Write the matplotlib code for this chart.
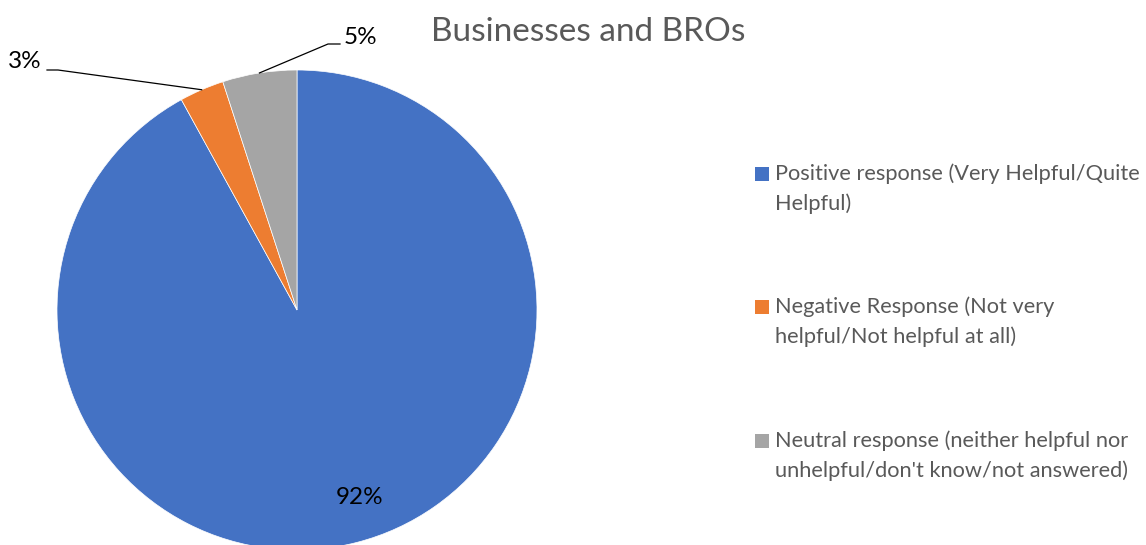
import numpy as np
import matplotlib
matplotlib.use("Agg")
import matplotlib.pyplot as plt
from matplotlib.patches import Rectangle

categories = [
    "Positive response (Very Helpful/Quite\nHelpful)",
    "Negative Response (Not very\nhelpful/Not helpful at all)",
    "Neutral response (neither helpful nor\nunhelpful/don't know/not answered)",
]
values = [92, 3, 5]
colors = ["#4472C4", "#ED7D31", "#A5A5A5"]
title = "Businesses and BROs"

W, H = 1146, 545
fig = plt.figure(figsize=(W / 100, H / 100), dpi=100)
ax = fig.add_axes([0, 0, 1, 1])

FONT = "Lato"
cx, cy, R = 297, H - 310, 240

wedges, _ = ax.pie(values, colors=colors, startangle=90, counterclock=False,
                   center=(cx, cy), radius=R, frame=True,
                   wedgeprops=dict(linewidth=0.5, edgecolor="white"))
ax.set_xlim(0, W)
ax.set_ylim(0, H)
ax.set_aspect("equal")
ax.axis("off")

# data labels: text centre and leader-line elbow (pixel offsets from the pie centre)
label_pos = [(cx + 63, cy - 187), (cx - 272, cy + 248), (cx + 63, cy + 273)]
elbows = [None, ((cx - 250, cy + 240), (cx - 239, cy + 240)),
          ((cx + 43, cy + 266), (cx + 31, cy + 266))]
for i, (w, v) in enumerate(zip(wedges, values)):
    tx, ty = label_pos[i]
    if elbows[i] is not None:
        mid = np.deg2rad((w.theta1 + w.theta2) / 2)
        px, py = cx + R * np.cos(mid), cy + R * np.sin(mid)
        (ex, ey), (kx, ky) = elbows[i]
        ax.plot([px, kx, ex], [py, ky, ey], color="black", lw=0.9)
    ax.text(tx, ty, f"{v}%", ha="center", va="center", fontsize=17.5,
            family=FONT, color="black")

# title
ax.text(588, H - 32, title, ha="center", va="center", fontsize=24,
        family=FONT, color="#595959")

# legend
leg_y = [174, 307, 441]
for lab, col, y in zip(categories, colors, leg_y):
    ax.add_patch(Rectangle((755, H - y - 7), 14, 14, facecolor=col,
                           edgecolor="none"))
    ax.text(775, H - y + 11, lab, ha="left", va="top", fontsize=15.7,
            family=FONT, color="#595959", linespacing=1.58)

fig.savefig("out.png", dpi=100)
